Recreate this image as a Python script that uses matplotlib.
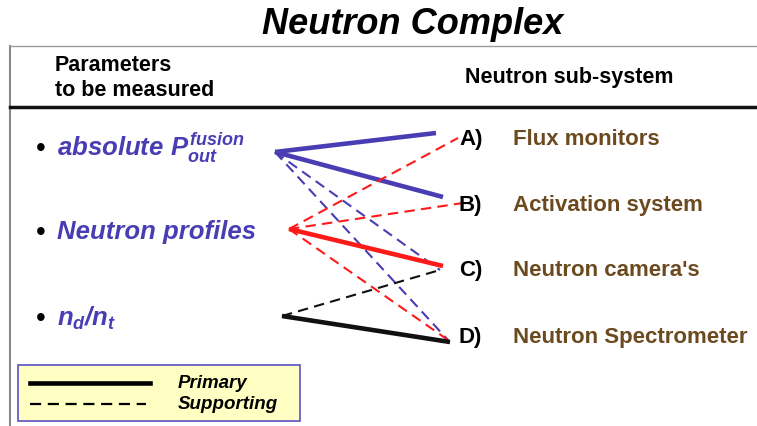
import matplotlib.pyplot as plt

# ------------------------------------------
# Diagram content
# ------------------------------------------

title = "Neutron Complex"
header_left = "Parameters\nto be measured"
header_right = "Neutron sub-system"

# parameters to be measured (left column)
params = [r"$\mathit{absolute\ P_{out}^{fusion}}$", "Neutron profiles", r"$\mathit{n_d/n_t}$"]
param_colors = ["#4a3db4", "#4a3db4", "#4a3db4"]

# neutron sub-systems (right column)
letters = ["A)", "B)", "C)", "D)"]
subsystems = ["Flux monitors", "Activation system", "Neutron camera's", "Neutron Spectrometer"]

# links: (parameter index, subsystem index, kind)
links = [
    (0, 0, "primary"), (0, 1, "primary"), (0, 2, "supporting"), (0, 3, "supporting"),
    (1, 0, "supporting"), (1, 1, "supporting"), (1, 2, "primary"), (1, 3, "supporting"),
    (2, 2, "supporting"), (2, 3, "primary"),
]
link_colors = ["#4a3db4", "#ff1a1a", "#111111"]

legend_labels = ["Primary", "Supporting"]

# ------------------------------------------
# Layout (pixels)
# ------------------------------------------
param_y = [148, 232, 318]
param_src = [(275, 153), (289, 230), (282, 317)]
sub_y = [140, 206, 271, 338]
# end points of link lines at each subsystem: primary / supporting
end_primary = [(436, 134), (443, 198), (443, 267), (450, 343)]
end_support = [(458, 139), (463, 204), (440, 271), (448, 341)]

plt.rcParams['font.family'] = ['Liberation Sans', 'DejaVu Sans']
plt.rcParams['mathtext.fontset'] = 'custom'
plt.rcParams['mathtext.it'] = 'Liberation Sans:italic:bold'
plt.rcParams['mathtext.rm'] = 'Liberation Sans:italic:bold'

fig = plt.figure(figsize=(7.57, 4.27), dpi=100)
ax = fig.add_axes([0, 0, 1, 1])
ax.set_xlim(0, 757)
ax.set_ylim(427, 0)
ax.axis('off')

# title
ax.text(413, 24, title, ha='center', va='center', fontsize=26,
        fontweight='bold', fontstyle='italic')

# frame
ax.plot([10, 10], [47, 427], color='#888888', lw=1.5)
ax.plot([10, 757], [47, 47], color='#999999', lw=1.0)
ax.plot([10, 757], [108, 108], color='#111111', lw=2.5)

# headers
ax.text(55, 78, header_left, ha='left', va='center', fontsize=15.5,
        fontweight='bold', linespacing=1.2)
ax.text(465, 77, header_right, ha='left', va='center', fontsize=15.5,
        fontweight='bold')

# parameters
for i, p in enumerate(params):
    ax.text(36, param_y[i] + 1, "•", ha='left', va='center', fontsize=20, color='black')
    ax.text(57, param_y[i], p, ha='left', va='center', fontsize=18.5,
            fontweight='bold', fontstyle='italic', color=param_colors[i])

# subsystems
for j, s in enumerate(subsystems):
    ax.text(459, sub_y[j], letters[j], ha='left', va='center', fontsize=16,
            fontweight='bold', color='black')
    ax.text(513, sub_y[j], s, ha='left', va='center', fontsize=16,
            fontweight='bold', color='#6b4a1f')

# links
for pi, sj, kind in links:
    x0, y0 = param_src[pi]
    if kind == "primary":
        x1, y1 = end_primary[sj]
        ax.plot([x0, x1], [y0, y1], color=link_colors[pi], lw=3.3,
                solid_capstyle='butt')
    else:
        x1, y1 = end_support[sj]
        ax.plot([x0, x1], [y0, y1], color=link_colors[pi], lw=1.5,
                linestyle=(0, (5, 3)))

# legend box
ax.add_patch(plt.Rectangle((18, 366), 282, 56, facecolor='#ffffc4',
                           edgecolor='#5a50c0', lw=1.2))
ax.plot([30, 150], [384, 384], color='black', lw=3.3)
ax.plot([30, 146], [405, 405], color='black', lw=1.6, linestyle=(0, (5, 3)))
ax.text(178, 384, legend_labels[0], ha='left', va='center', fontsize=13.5,
        fontweight='bold', fontstyle='italic')
ax.text(178, 405, legend_labels[1], ha='left', va='center', fontsize=13.5,
        fontweight='bold', fontstyle='italic')

fig.savefig("out.png", dpi=100)
